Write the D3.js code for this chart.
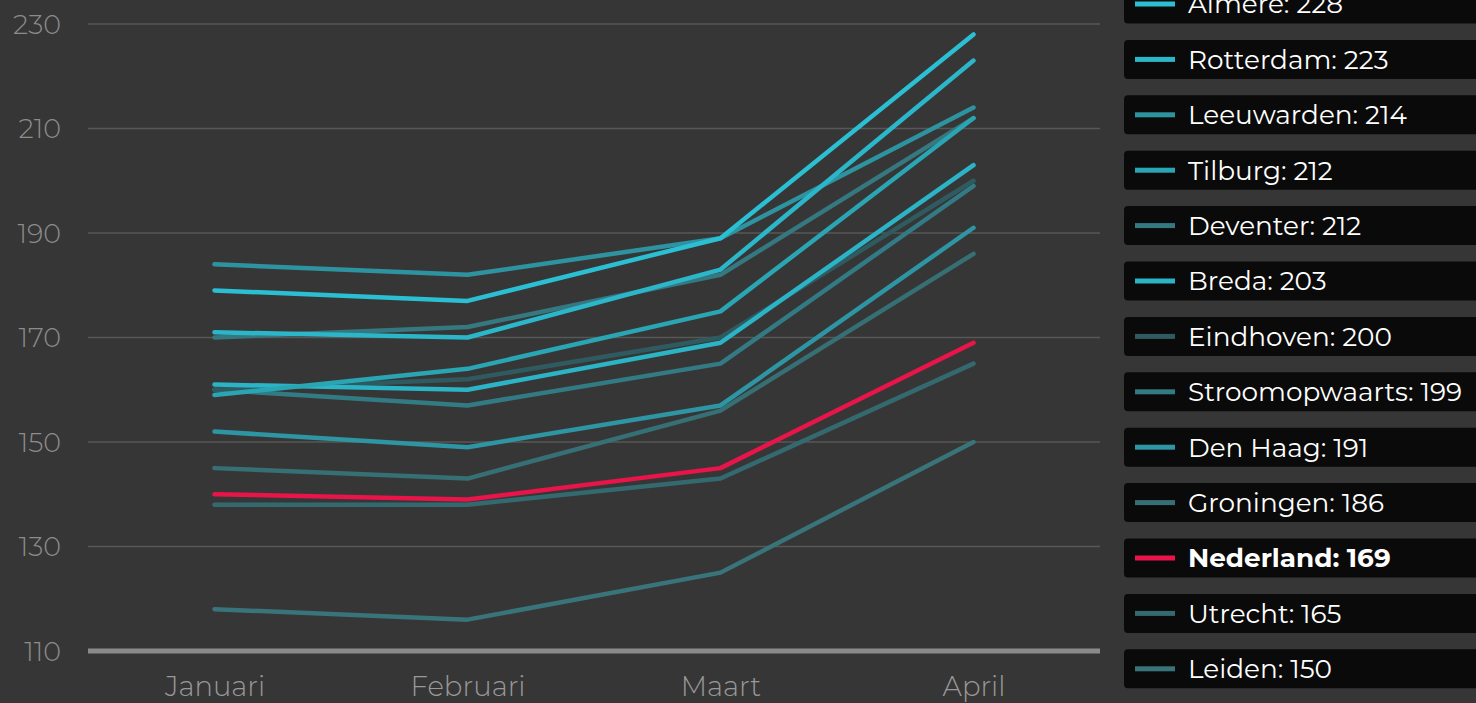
<!DOCTYPE html>
<html>
<head>
<meta charset="utf-8">
<script src="https://cdn.jsdelivr.net/npm/d3@7"></script>
<style>
  html, body { margin: 0; padding: 0; background: #363636; overflow: hidden; }
  svg { display: block; }
  text { font-family: Montserrat, "Open Sans", "Noto Sans", sans-serif; }
</style>
</head>
<body>
<svg id="chart" width="1476" height="703"></svg>
<script>
const months = ["Januari", "Februari", "Maart", "April"];
const yTicks = [110, 130, 150, 170, 190, 210, 230];

const names = ["Almere", "Rotterdam", "Leeuwarden", "Tilburg", "Deventer", "Breda",
  "Eindhoven", "Stroomopwaarts", "Den Haag", "Groningen", "Nederland", "Utrecht", "Leiden"];

const almere        = [179, 177, 189, 228];
const rotterdam     = [171, 170, 183, 223];
const leeuwarden    = [184, 182, 189, 214];
const tilburg       = [159, 164, 175, 212];
const deventer      = [170, 172, 182, 212];
const breda         = [161, 160, 169, 203];
const eindhoven     = [160, 162, 170, 200];
const stroomopwaarts= [160, 157, 165, 199];
const denHaag       = [152, 149, 157, 191];
const groningen     = [145, 143, 156, 186];
const nederland     = [140, 139, 145, 169];
const utrecht       = [138, 138, 143, 165];
const leiden        = [118, 116, 125, 150];

const seriesValues = [almere, rotterdam, leeuwarden, tilburg, deventer, breda,
  eindhoven, stroomopwaarts, denHaag, groningen, nederland, utrecht, leiden];

const colors = ["#2bbfd3", "#2bb6ca", "#2e93a0", "#2aa5b3", "#357880", "#2bb3c6",
  "#2f5a60", "#337b84", "#2d95a3", "#366f74", "#e8144a", "#346a6f", "#38747a"];

const series = names.map((n, i) => ({ name: n, values: seriesValues[i], color: colors[i] }));

const svg = d3.select("#chart");
const mLeft = 88, mRight = 1100, mTop = 24, mBottom = 651;

const x = d3.scalePoint().domain(months).range([mLeft, mRight]).padding(0.5);
const y = d3.scaleLinear().domain([110, 230]).range([mBottom, mTop]);

// gridlines
svg.append("g").selectAll("line").data(yTicks.filter(t => t !== 110)).join("line")
  .attr("x1", mLeft).attr("x2", mRight)
  .attr("y1", d => y(d)).attr("y2", d => y(d))
  .attr("stroke", "#575757").attr("stroke-width", 1.5);

// y axis labels
const yAxis = d3.axisLeft(y).tickValues(yTicks).tickSize(0).tickPadding(0);
const gy = svg.append("g").attr("transform", `translate(61,0)`).call(yAxis);
gy.select(".domain").remove();
gy.selectAll("text").attr("fill", "#8c8c8c").attr("font-size", 27).attr("font-weight", 300)
  .attr("dy", "0.35em").style("font-family", 'Montserrat, "Open Sans", sans-serif');

// baseline
svg.append("line").attr("x1", mLeft).attr("x2", mRight)
  .attr("y1", y(110)).attr("y2", y(110))
  .attr("stroke", "#8a8a8a").attr("stroke-width", 5);

// x axis labels
const xAxis = d3.axisBottom(x).tickSize(0).tickPadding(0);
const gx = svg.append("g").attr("transform", `translate(0,${y(110)})`).call(xAxis);
gx.select(".domain").remove();
gx.selectAll("text").attr("fill", "#999999").attr("font-size", 27.5).attr("font-weight", 300)
  .attr("y", 45).attr("dy", 0).style("font-family", 'Montserrat, "Open Sans", sans-serif');

// lines
const line = d3.line().x((d, i) => x(months[i])).y(d => y(d));
const drawOrder = series.slice().reverse().filter(s => s.name !== "Nederland")
  .concat(series.filter(s => s.name === "Nederland"));
svg.append("g").selectAll("path").data(drawOrder).join("path")
  .attr("d", d => line(d.values))
  .attr("fill", "none")
  .attr("stroke", d => d.color)
  .attr("stroke-width", 4.5)
  .attr("stroke-linecap", "round")
  .attr("stroke-linejoin", "round");

// legend
const legendTop = 4, legendStep = 55.4;
const lg = svg.append("g").selectAll("g").data(series).join("g")
  .attr("transform", (d, i) => `translate(1124,${legendTop + i * legendStep})`);
lg.append("rect").attr("x", 0).attr("y", -19.5).attr("width", 400).attr("height", 39)
  .attr("rx", 4).attr("fill", "#0a0a0a");
lg.append("rect").attr("x", 11).attr("y", -2.5).attr("width", 40).attr("height", 5)
  .attr("fill", d => d.color);
lg.append("text").attr("x", 64).attr("y", 0).attr("dy", "0.36em")
  .attr("fill", "#ffffff").attr("font-size", 26.3)
  .attr("font-weight", d => d.name === "Nederland" ? 700 : 400)
  .text(d => `${d.name}: ${d.values[d.values.length - 1]}`);
</script>
</body>
</html>
